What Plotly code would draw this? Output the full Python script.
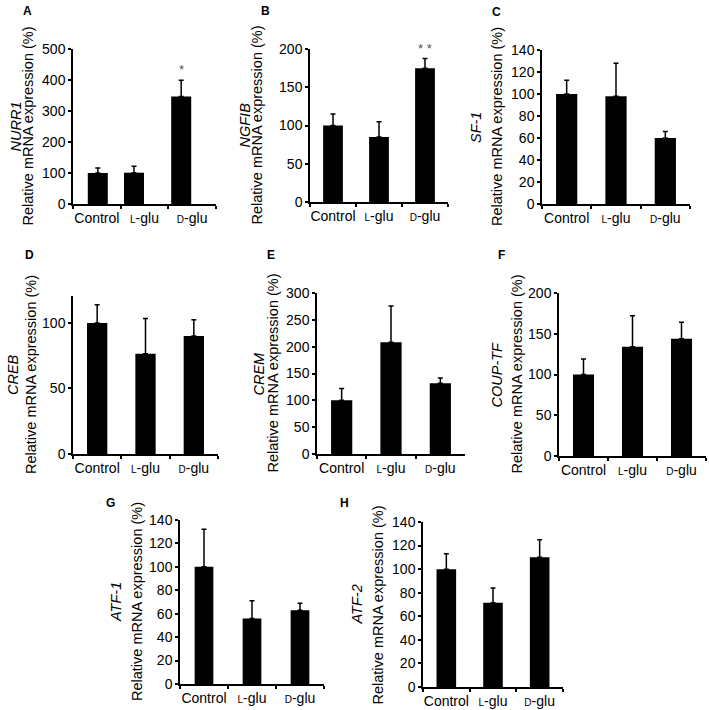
import plotly.graph_objects as go

# figure drawn in page-pixel coordinates; body margin removed by post_script
OFF = 0
W, H = 709 - OFF, 710 - OFF

categories = ["Control", "L-glu", "D-glu"]
cat_ticktext = ["Control",
                "<span style='font-size:10px'>L</span>-glu",
                "<span style='font-size:10px'>D</span>-glu"]

nurr1 = [100, 101, 347]
nurr1_err = [16, 21, 52]
ngfib = [100, 85, 175]
ngfib_err = [15, 20, 12.5]
sf1 = [100, 98, 60]
sf1_err = [12.5, 30, 6]
creb = [100, 76.5, 90]
creb_err = [14, 27, 12.5]
crem = [100, 208, 132]
crem_err = [22, 68, 9.5]
couptf = [100, 134, 144]
couptf_err = [19, 38, 20]
atf1 = [100, 56, 63]
atf1_err = [32, 15, 6]
atf2 = [100, 71.5, 110]
atf2_err = [13, 12.5, 15]

genes = ["NURR1", "NGFIB", "SF-1", "CREB", "CREM", "COUP-TF", "ATF-1", "ATF-2"]
letters = ["A", "B", "C", "D", "E", "F", "G", "H"]
values = [nurr1, ngfib, sf1, creb, crem, couptf, atf1, atf2]
errors = [nurr1_err, ngfib_err, sf1_err, creb_err, crem_err, couptf_err, atf1_err, atf2_err]
y_max = [500, 200, 140, 120.6, 300, 200, 140, 140]
y_dtick = [100, 50, 20, 50, 50, 50, 20, 20]
signif = [[None, None, "*"], [None, None, "* *"], None, None, None, None, None, None]

# layout (page pixels): plot area x0, x1, y_top, y_bottom ; title positions
boxes = [
    (73, 216, 49, 204),
    (310, 448, 49, 202),
    (542, 690, 50, 204),
    (73, 218, 296, 454),
    (317, 465, 293, 454),
    (559, 706, 293, 456),
    (180, 324, 520, 684),
    (423, 563, 522, 687),
]
gene_x = [16, 245, 476, 13, 258, 496, 116, 356]
rel_x = [28, 257, 497, 31, 272, 516, 137, 377]
letter_pos = [(27, 11), (265, 11), (496, 12), (30, 255), (271, 255), (501, 255), (110, 503), (344, 503)]
bar_width = [0.42, 0.43, 0.43, 0.42, 0.43, 0.43, 0.39, 0.42]
# bar start offsets (category units); panel A's last two bars sit left of centre
bar_offset = [[-0.19, -0.43, -0.44], None, None, None, None, None, None, None]

FONT = "Arial, 'Liberation Sans', sans-serif"

fig = go.Figure()
annotations = []
layout_axes = {}

def px_x(x):
    return (x - OFF) / W

def px_y(y):
    return 1 - (y - OFF) / H

for i in range(8):
    n = i + 1
    xa = "x" if n == 1 else f"x{n}"
    ya = "y" if n == 1 else f"y{n}"
    xkey = "xaxis" if n == 1 else f"xaxis{n}"
    ykey = "yaxis" if n == 1 else f"yaxis{n}"
    x0, x1, yt, yb = boxes[i]

    bar_kw = {}
    if bar_offset[i]:
        bar_kw["offset"] = bar_offset[i]

    fig.add_trace(go.Bar(
        x=categories, y=values[i], xaxis=xa, yaxis=ya,
        marker=dict(color="black", line=dict(width=0)),
        width=bar_width[i],
        error_y=dict(type="data", array=errors[i], arrayminus=[0, 0, 0],
                     symmetric=False, color="black", thickness=1.5, width=2.5),
        showlegend=False, hoverinfo="skip",
        **bar_kw,
    ))

    layout_axes[xkey] = dict(
        domain=[px_x(x0), px_x(x1)], anchor=ya, automargin=False,
        type="category", categoryorder="array", categoryarray=categories,
        range=[-0.5, 2.5],
        tickmode="array", tickvals=categories, ticktext=cat_ticktext,
        tickangle=0,
        tickson="boundaries", ticks="outside", ticklen=3, tickwidth=1.5,
        tickcolor="black", showline=True, linecolor="black", linewidth=1.5,
        showgrid=False, zeroline=False,
        tickfont=dict(family=FONT, size=14, color="black"),
        fixedrange=True,
    )
    layout_axes[ykey] = dict(
        domain=[px_y(yb), px_y(yt)], anchor=xa, automargin=False,
        range=[0, y_max[i]], dtick=y_dtick[i], tick0=0,
        ticks="outside", ticklen=3, tickwidth=1.5, tickcolor="black",
        showline=True, linecolor="black", linewidth=1.5,
        showgrid=False, zeroline=False,
        tickfont=dict(family=FONT, size=14, color="black"),
        fixedrange=True,
    )

    yc = px_y((yt + yb) / 2)
    annotations.append(dict(
        text=f"<i>{genes[i]}</i>", xref="paper", yref="paper",
        x=px_x(gene_x[i]), y=yc, xanchor="center", yanchor="middle",
        textangle=-90, showarrow=False,
        font=dict(family=FONT, size=14.5, color="black"),
    ))
    annotations.append(dict(
        text="Relative mRNA expression (%)", xref="paper", yref="paper",
        x=px_x(rel_x[i]), y=yc, xanchor="center", yanchor="middle",
        textangle=-90, showarrow=False,
        font=dict(family=FONT, size=14.5, color="black"),
    ))
    lx, ly = letter_pos[i]
    annotations.append(dict(
        text=f"<b>{letters[i]}</b>", xref="paper", yref="paper",
        x=px_x(lx), y=px_y(ly), xanchor="center", yanchor="middle",
        showarrow=False, font=dict(family=FONT, size=12, color="black"),
    ))
    if signif[i]:
        for j, s in enumerate(signif[i]):
            if s:
                xshift = 0
                if bar_offset[i]:
                    cat_px = (x1 - x0) / 3
                    xshift = (bar_offset[i][j] + bar_width[i] / 2) * cat_px
                annotations.append(dict(
                    text=s, xref=xa, yref=ya, x=categories[j],
                    y=values[i][j] + errors[i][j],
                    xanchor="center", yanchor="bottom", yshift=1, xshift=xshift,
                    showarrow=False,
                    font=dict(family=FONT, size=13, color="#555555"),
                ))

fig.update_layout(
    width=W, height=H,
    margin=dict(l=0, r=0, t=0, b=0, autoexpand=False),
    paper_bgcolor="white", plot_bgcolor="white",
    annotations=annotations,
    bargap=0.5,
    **layout_axes,
)

fig.write_html(
    "out.html",
    config={"displayModeBar": False},
    post_script="document.body.style.margin='0';document.body.style.overflow='hidden';",
)
